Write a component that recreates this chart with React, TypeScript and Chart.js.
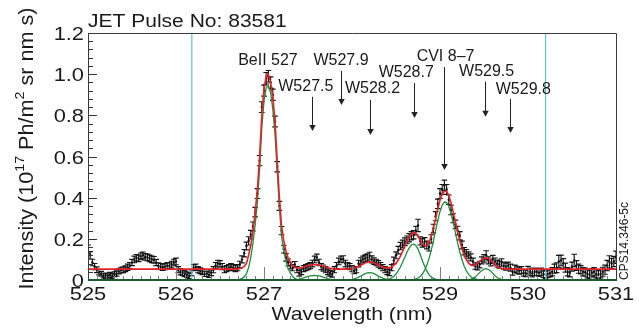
import React, { useEffect, useRef } from "react";
import { Chart, registerables } from "chart.js";

Chart.register(...registerables);

// ---------- measured spectrum (wavelength grid: 525 nm + i * 0.025 nm) ----------
const WL_START = 525;
const WL_STEP = 0.025;

const intensity = [
  0.15, 0.12, 0.085, 0.065, 0.05, 0.038, 0.03, 0.022, 0.018, 0.022,
  0.025, 0.02, 0.028, 0.032, 0.042, 0.048, 0.05, 0.055, 0.062, 0.07,
  0.085, 0.1, 0.108, 0.105, 0.115, 0.12, 0.112, 0.11, 0.105, 0.1,
  0.098, 0.085, 0.068, 0.065, 0.062, 0.065, 0.07, 0.068, 0.075, 0.085,
  0.09, 0.05, 0.04, 0.035, 0.03, 0.025, 0.02, 0.035, 0.06, 0.062,
  0.05, 0.045, 0.04, 0.03, 0.03, 0.025, 0.035, 0.05, 0.07, 0.08,
  0.078, 0.065, 0.05, 0.055, 0.06, 0.065, 0.06, 0.055, 0.06, 0.075,
  0.1, 0.13, 0.165, 0.19, 0.22, 0.26, 0.33, 0.42, 0.58, 0.84,
  0.92, 0.98, 0.99, 0.96, 0.9, 0.77, 0.55, 0.36, 0.24, 0.15,
  0.11, 0.085, 0.07, 0.06, 0.075, 0.05, 0.033, 0.04, 0.055, 0.06,
  0.065, 0.07, 0.08, 0.1, 0.11, 0.085, 0.065, 0.058, 0.05, 0.04,
  0.033, 0.028, 0.05, 0.07, 0.09, 0.1, 0.102, 0.08, 0.07, 0.065,
  0.055, 0.045, 0.05, 0.08, 0.092, 0.1, 0.105, 0.11, 0.118, 0.1,
  0.092, 0.085, 0.078, 0.07, 0.06, 0.05, 0.04, 0.035, 0.06, 0.095,
  0.12, 0.145, 0.165, 0.175, 0.186, 0.195, 0.205, 0.215, 0.22, 0.24,
  0.265, 0.19, 0.18, 0.186, 0.17, 0.16, 0.2, 0.25, 0.31, 0.37,
  0.42, 0.44, 0.46, 0.44, 0.39, 0.34, 0.3, 0.27, 0.24, 0.215,
  0.17, 0.14, 0.13, 0.12, 0.11, 0.09, 0.068, 0.065, 0.075, 0.095,
  0.105, 0.12, 0.095, 0.085, 0.1, 0.09, 0.08, 0.075, 0.085, 0.07,
  0.065, 0.07, 0.06, 0.04, 0.055, 0.05, 0.045, 0.048, 0.035, 0.032,
  0.048, 0.04, 0.033, 0.04, 0.04, 0.035, 0.04, 0.03, 0.025, 0.03,
  0.033, 0.04, 0.055, 0.06, 0.09, 0.095, 0.08, 0.06, 0.04, 0.035,
  0.065, 0.095, 0.07, 0.055, 0.05, 0.04, 0.038, 0.03, 0.025, 0.035,
  0.04, 0.03, 0.025, 0.03, 0.04, 0.05, 0.07, 0.088, 0.08, 0.09,
  0.11,
];

const intensityErr = [
  0.02, 0.018, 0.016, 0.015, 0.014, 0.013, 0.012, 0.012, 0.012, 0.012,
  0.012, 0.012, 0.012, 0.013, 0.013, 0.014, 0.014, 0.014, 0.015, 0.015,
  0.015, 0.016, 0.016, 0.016, 0.016, 0.016, 0.016, 0.016, 0.016, 0.016,
  0.016, 0.015, 0.015, 0.015, 0.015, 0.015, 0.015, 0.015, 0.016, 0.016,
  0.016, 0.015, 0.015, 0.014, 0.014, 0.013, 0.013, 0.014, 0.015, 0.015,
  0.015, 0.014, 0.014, 0.013, 0.013, 0.013, 0.014, 0.015, 0.015, 0.016,
  0.016, 0.015, 0.015, 0.015, 0.015, 0.015, 0.015, 0.015, 0.015, 0.016,
  0.017, 0.018, 0.019, 0.02, 0.021, 0.022, 0.023, 0.024, 0.025, 0.026,
  0.027, 0.028, 0.028, 0.027, 0.027, 0.026, 0.025, 0.022, 0.02, 0.019,
  0.018, 0.017, 0.016, 0.015, 0.015, 0.015, 0.014, 0.014, 0.015, 0.015,
  0.015, 0.015, 0.016, 0.016, 0.016, 0.016, 0.015, 0.015, 0.015, 0.014,
  0.014, 0.014, 0.015, 0.015, 0.016, 0.016, 0.016, 0.016, 0.015, 0.015,
  0.015, 0.014, 0.015, 0.016, 0.016, 0.016, 0.017, 0.017, 0.017, 0.017,
  0.016, 0.016, 0.016, 0.015, 0.015, 0.015, 0.014, 0.014, 0.015, 0.016,
  0.017, 0.018, 0.018, 0.019, 0.019, 0.019, 0.02, 0.02, 0.02, 0.021,
  0.03, 0.02, 0.02, 0.02, 0.019, 0.019, 0.02, 0.021, 0.022, 0.023,
  0.024, 0.024, 0.025, 0.024, 0.023, 0.023, 0.022, 0.021, 0.021, 0.02,
  0.019, 0.018, 0.018, 0.017, 0.017, 0.016, 0.016, 0.016, 0.016, 0.017,
  0.018, 0.022, 0.017, 0.017, 0.02, 0.017, 0.017, 0.017, 0.018, 0.017,
  0.017, 0.017, 0.017, 0.016, 0.017, 0.017, 0.017, 0.017, 0.016, 0.016,
  0.018, 0.018, 0.018, 0.018, 0.018, 0.018, 0.018, 0.018, 0.018, 0.018,
  0.018, 0.02, 0.022, 0.024, 0.03, 0.026, 0.024, 0.022, 0.02, 0.02,
  0.022, 0.03, 0.024, 0.022, 0.02, 0.02, 0.02, 0.02, 0.02, 0.02,
  0.02, 0.02, 0.02, 0.02, 0.022, 0.022, 0.025, 0.03, 0.025, 0.025,
  0.03,
];

// ---------- total fit (red) ----------
const fitX = [
  525.0, 526.7, 526.725, 526.75, 526.775, 526.8, 526.825, 526.85, 526.875, 526.9,
  526.925, 526.95, 526.975, 527.0, 527.025, 527.045, 527.07, 527.1, 527.125, 527.15,
  527.175, 527.2, 527.225, 527.25, 527.275, 527.3, 527.325, 527.35, 527.4, 527.45,
  527.5, 527.55, 527.6, 527.65, 527.7, 527.75, 527.8, 527.85, 527.95, 528.0,
  528.05, 528.1, 528.15, 528.2, 528.25, 528.3, 528.35, 528.375, 528.4, 528.425,
  528.45, 528.475, 528.5, 528.525, 528.55, 528.575, 528.6, 528.625, 528.65, 528.675,
  528.7, 528.725, 528.75, 528.775, 528.8, 528.825, 528.85, 528.875, 528.9, 528.925,
  528.95, 528.975, 529.0, 529.025, 529.05, 529.075, 529.1, 529.125, 529.15, 529.175,
  529.2, 529.225, 529.25, 529.275, 529.3, 529.325, 529.35, 529.375, 529.4, 529.425,
  529.45, 529.475, 529.5, 529.525, 529.55, 529.575, 529.6, 529.625, 529.65, 529.675,
  529.7, 529.75, 531.0,
];
const fitY = [
  0.053, 0.053, 0.056, 0.059, 0.066, 0.08, 0.12, 0.17, 0.24, 0.33,
  0.44, 0.6, 0.8, 0.93, 0.99, 1.0, 0.97, 0.89, 0.77, 0.58,
  0.4, 0.26, 0.19, 0.14, 0.105, 0.085, 0.068, 0.062, 0.057, 0.063,
  0.0705, 0.0745, 0.0745, 0.0705, 0.063, 0.057, 0.054, 0.053, 0.053, 0.056,
  0.062, 0.072, 0.084, 0.089, 0.084, 0.072, 0.063, 0.06, 0.059, 0.06,
  0.063, 0.071, 0.082, 0.097, 0.116, 0.139, 0.164, 0.189, 0.21, 0.224,
  0.231, 0.226, 0.2125, 0.194, 0.176, 0.167, 0.168, 0.183, 0.212, 0.251,
  0.298, 0.344, 0.387, 0.417, 0.432, 0.43, 0.41, 0.376, 0.332, 0.283,
  0.233, 0.189, 0.151, 0.12, 0.098, 0.082, 0.073, 0.07, 0.073, 0.0805,
  0.09, 0.099, 0.106, 0.108, 0.104, 0.097, 0.085, 0.074, 0.065, 0.0595,
  0.056, 0.053, 0.053,
];

// ---------- fitted line components (green), sampled every 0.025 nm from their start ----------
const compBeII527Start = 526.7;
const compBeII527 = [
  0.0, 0.003, 0.008, 0.015, 0.03, 0.06, 0.11, 0.18, 0.27, 0.38,
  0.54, 0.74, 0.87, 0.935, 0.945, 0.91, 0.83, 0.71, 0.53, 0.35,
  0.21, 0.14, 0.09, 0.055, 0.033, 0.017, 0.008, 0.003, 0.0,
];
const compW5276Start = 527.35;
const compW5276 = [
  0.001, 0.002, 0.004, 0.0065, 0.01, 0.014, 0.0175, 0.02, 0.0215, 0.022,
  0.0215, 0.02, 0.0175, 0.014, 0.01, 0.0065, 0.004, 0.002, 0.001, 0.0,
];
const compW5282Start = 527.95;
const compW5282 = [
  0.0, 0.0015, 0.003, 0.005, 0.009, 0.014, 0.019, 0.025, 0.031, 0.035,
  0.036, 0.035, 0.031, 0.025, 0.019, 0.014, 0.009, 0.005, 0.003, 0.0015, 0.0,
];
const compW5287Start = 528.35;
const compW5287 = [
  0.0, 0.0015, 0.003, 0.006, 0.01, 0.018, 0.029, 0.044, 0.063, 0.086,
  0.111, 0.136, 0.156, 0.17, 0.175, 0.168, 0.15, 0.124, 0.094, 0.067,
  0.044, 0.026, 0.015, 0.008, 0.004, 0.002, 0.001,
];
const compCVIStart = 528.7;
const compCVI = [
  0.003, 0.005, 0.0095, 0.017, 0.029, 0.047, 0.071, 0.104, 0.144, 0.19,
  0.241, 0.289, 0.333, 0.364, 0.379, 0.377, 0.357, 0.323, 0.279, 0.23,
  0.18, 0.136, 0.098, 0.067, 0.044, 0.027, 0.016, 0.009, 0.005, 0.0025, 0.001,
];
const compW5295Start = 529.3;
const compW5295 = [
  0.001, 0.002, 0.004, 0.008, 0.015, 0.025, 0.036, 0.046, 0.053, 0.055,
  0.051, 0.044, 0.032, 0.021, 0.012, 0.0065, 0.003, 0.0015, 0.0,
];

// ---------- cyan markers ----------
const cyanLinesX = [526.18, 530.2];

// ---------- axes text ----------
const xTickValues = [525, 526, 527, 528, 529, 530, 531];
const xTickLabels = ["525", "526", "527", "528", "529", "530", "531"];
const yTickValues = [0, 0.2, 0.4, 0.6, 0.8, 1.0, 1.2];
const yTickLabels = ["0", "0.2", "0.4", "0.6", "0.8", "1.0", "1.2"];
const titleText = "JET Pulse No: 83581";
const xTitleText = "Wavelength (nm)";
const yTitleParts = ["Intensity (10", "17", " Ph/m", "2", " sr nm s)"];
const yTitleSup = [false, true, false, true, false];
const sideText = "CPS14.346-5c";

// ---------- line identifications ----------
const annLabels = ["BeII 527", "W527.5", "W527.9", "W528.2", "W528.7", "CVI 8\u20137", "W529.5", "W529.8"];
const annX = [527.045, 527.475, 527.875, 528.233, 528.617, 529.063, 529.53, 529.947];
const annY = [1.064, 0.94, 1.064, 0.928, 1.006, 1.085, 1.011, 0.923];
const arrowX = [527.54, 527.87, 528.2, 528.71, 529.05, 529.51, 529.8];
const arrowTop = [0.89, 1.016, 0.875, 0.957, 1.035, 0.964, 0.88];
const arrowTip = [0.724, 0.85, 0.705, 0.787, 0.535, 0.793, 0.714];

const FONT = '"Liberation Sans", Arial, Helvetica, sans-serif';

function drawText(
  ctx: CanvasRenderingContext2D,
  s: string,
  x: number,
  y: number,
  size: number,
  sx: number,
  align: CanvasTextAlign,
  baseline: CanvasTextBaseline = "alphabetic"
) {
  ctx.save();
  ctx.translate(x, y);
  ctx.scale(sx, 1);
  ctx.font = `${size}px ${FONT}`;
  ctx.textAlign = align;
  ctx.textBaseline = baseline;
  ctx.fillStyle = "#1a1a1a";
  ctx.fillText(s, 0, 0);
  ctx.restore();
}

const decorPlugin = {
  id: "decor",
  beforeDatasetsDraw(chart: any) {
    const { ctx, chartArea: a, scales } = chart;
    const xs = scales.x;
    const ys = scales.y;
    ctx.save();
    ctx.beginPath();
    ctx.rect(a.left, a.top, a.right - a.left, a.bottom - a.top);
    ctx.clip();
    ctx.strokeStyle = "#141414";
    ctx.lineWidth = 1.15;
    ctx.beginPath();
    intensity.forEach((v, i) => {
      const px = xs.getPixelForValue(WL_START + i * WL_STEP);
      const e = intensityErr[i];
      const t = ys.getPixelForValue(v + e);
      const b = ys.getPixelForValue(Math.max(v - e, 0));
      ctx.moveTo(px, t);
      ctx.lineTo(px, b);
      ctx.moveTo(px - 2.8, t);
      ctx.lineTo(px + 2.8, t);
      ctx.moveTo(px - 2.8, b);
      ctx.lineTo(px + 2.8, b);
    });
    ctx.stroke();
    ctx.restore();
  },
  afterDatasetsDraw(chart: any) {
    const { ctx, chartArea: a, scales } = chart;
    const xs = scales.x;
    const ys = scales.y;
    ctx.save();
    // x ticks (inside, pointing up)
    ctx.strokeStyle = "#808080";
    ctx.lineWidth = 1;
    ctx.beginPath();
    for (let k = 0; k <= 60; k++) {
      const px = Math.round(xs.getPixelForValue(525 + k * 0.1)) + 0.5;
      const len = k % 10 === 0 ? 13 : 4;
      ctx.moveTo(px, a.bottom);
      ctx.lineTo(px, a.bottom - len);
    }
    ctx.stroke();
    // y ticks (inside, pointing right)
    ctx.strokeStyle = "#333";
    ctx.beginPath();
    for (let k = 0; k <= 30; k++) {
      const py = Math.round(ys.getPixelForValue(k * 0.04)) + 0.5;
      const len = k % 5 === 0 ? 9 : 5;
      ctx.moveTo(a.left, py);
      ctx.lineTo(a.left + len, py);
    }
    ctx.stroke();
    // frame
    ctx.strokeStyle = "#3a3a3a";
    ctx.lineWidth = 1;
    ctx.beginPath();
    ctx.moveTo(a.left + 0.5, a.bottom);
    ctx.lineTo(a.left + 0.5, a.top + 0.5);
    ctx.lineTo(a.right + 0.5, a.top + 0.5);
    ctx.lineTo(a.right + 0.5, a.bottom);
    ctx.stroke();
    ctx.strokeStyle = "#1d5a2e";
    ctx.lineWidth = 2;
    ctx.beginPath();
    ctx.moveTo(a.left, a.bottom);
    ctx.lineTo(a.right + 1, a.bottom);
    ctx.stroke();
    ctx.restore();
  },
  afterDraw(chart: any) {
    const { ctx, chartArea: a, scales } = chart;
    const xs = scales.x;
    const ys = scales.y;
    // tick labels
    xTickValues.forEach((v, i) => {
      drawText(ctx, xTickLabels[i], xs.getPixelForValue(v), 300, 19, 1.15, "center");
    });
    yTickValues.forEach((v, i) => {
      drawText(ctx, yTickLabels[i], 84, ys.getPixelForValue(v) + 7, 19, 1.15, "right");
    });
    // title and axis titles
    drawText(ctx, titleText, a.left, 27, 18.3, 1.15, "left");
    drawText(ctx, xTitleText, (a.left + a.right) / 2, 320, 18.5, 1.15, "center");

    // y title with superscripts, rotated
    const fs = 20;
    const stretch = 1.08;
    ctx.save();
    ctx.translate(32.5, (a.top + a.bottom) / 2 - 8);
    ctx.rotate(-Math.PI / 2);
    ctx.scale(stretch, 1);
    ctx.fillStyle = "#1a1a1a";
    ctx.textBaseline = "alphabetic";
    ctx.textAlign = "left";
    let total = 0;
    const widths = yTitleParts.map((p, i) => {
      ctx.font = `${yTitleSup[i] ? fs * 0.66 : fs}px ${FONT}`;
      const w = ctx.measureText(p).width;
      total += w;
      return w;
    });
    let cx = -total / 2;
    yTitleParts.forEach((p, i) => {
      ctx.font = `${yTitleSup[i] ? fs * 0.66 : fs}px ${FONT}`;
      ctx.fillText(p, cx, yTitleSup[i] ? -fs * 0.42 : 0);
      cx += widths[i];
    });
    ctx.restore();

    // side code
    ctx.save();
    ctx.translate(628, 280);
    ctx.rotate(-Math.PI / 2);
    ctx.font = `12px ${FONT}`;
    ctx.fillStyle = "#1a1a1a";
    ctx.textAlign = "left";
    ctx.textBaseline = "alphabetic";
    ctx.fillText(sideText, 0, 0);
    ctx.restore();

    // annotations
    annLabels.forEach((s, i) => {
      drawText(ctx, s, xs.getPixelForValue(annX[i]), ys.getPixelForValue(annY[i]), 16, 1.0, "center", "middle");
    });
    ctx.save();
    ctx.strokeStyle = "#222";
    ctx.fillStyle = "#222";
    ctx.lineWidth = 1;
    arrowX.forEach((v, i) => {
      const px = Math.round(xs.getPixelForValue(v)) + 0.5;
      const t = ys.getPixelForValue(arrowTop[i]);
      const b = ys.getPixelForValue(arrowTip[i]);
      ctx.beginPath();
      ctx.moveTo(px, t);
      ctx.lineTo(px, b - 5);
      ctx.stroke();
      ctx.beginPath();
      ctx.moveTo(px - 3.2, b - 6);
      ctx.lineTo(px + 3.2, b - 6);
      ctx.lineTo(px, b);
      ctx.closePath();
      ctx.fill();
    });
    ctx.restore();
  },
};

function series(start: number, values: number[]) {
  return values.map((y, i) => ({ x: start + i * WL_STEP, y }));
}

export default function App() {
  const ref = useRef<HTMLCanvasElement | null>(null);

  useEffect(() => {
    if (!ref.current) return;
    const green = "#1f8e3d";
    const comps: [number, number[]][] = [
      [compBeII527Start, compBeII527],
      [compW5276Start, compW5276],
      [compW5282Start, compW5282],
      [compW5287Start, compW5287],
      [compCVIStart, compCVI],
      [compW5295Start, compW5295],
    ];
    const chart = new Chart(ref.current, {
      type: "scatter",
      data: {
        datasets: [
          {
            data: fitX.map((x, i) => ({ x, y: fitY[i] })),
            showLine: true,
            borderColor: "#e3232a",
            borderWidth: 1.6,
            pointRadius: 0,
            order: 0,
          },
          ...comps.map(([s, v]) => ({
            data: series(s, v),
            showLine: true,
            borderColor: green,
            borderWidth: 1.3,
            pointRadius: 0,
            order: 1,
          })),
          ...cyanLinesX.map((x) => ({
            data: [
              { x, y: 0 },
              { x, y: 1.2 },
            ],
            showLine: true,
            borderColor: "#5cc6d8",
            borderWidth: 1.2,
            pointRadius: 0,
            order: 2,
          })),
          {
            data: intensity.map((y, i) => ({ x: WL_START + i * WL_STEP, y })),
            showLine: false,
            pointRadius: 1.2,
            pointBackgroundColor: "#111",
            pointBorderWidth: 0,
            order: 3,
          },
        ],
      },
      options: {
        responsive: false,
        animation: false,
        events: [],
        layout: { padding: { left: 0, top: 33, right: 23, bottom: 0 } },
        plugins: { legend: { display: false }, tooltip: { enabled: false }, title: { display: false } },
        scales: {
          x: {
            type: "linear",
            min: 525,
            max: 531,
            ticks: { display: false },
            grid: { display: false },
            border: { display: false },
            afterFit: (s: any) => {
              s.height = 51;
            },
          },
          y: {
            type: "linear",
            min: 0,
            max: 1.2,
            ticks: { display: false },
            grid: { display: false },
            border: { display: false },
            afterFit: (s: any) => {
              s.width = 88;
            },
          },
        },
      },
      plugins: [decorPlugin],
    });
    return () => chart.destroy();
  }, []);

  return (
    <div style={{ position: "absolute", left: 0, top: 0, width: 639, height: 331, background: "#fff" }}>
      <canvas ref={ref} width={639} height={331} style={{ display: "block" }} />
    </div>
  );
}
